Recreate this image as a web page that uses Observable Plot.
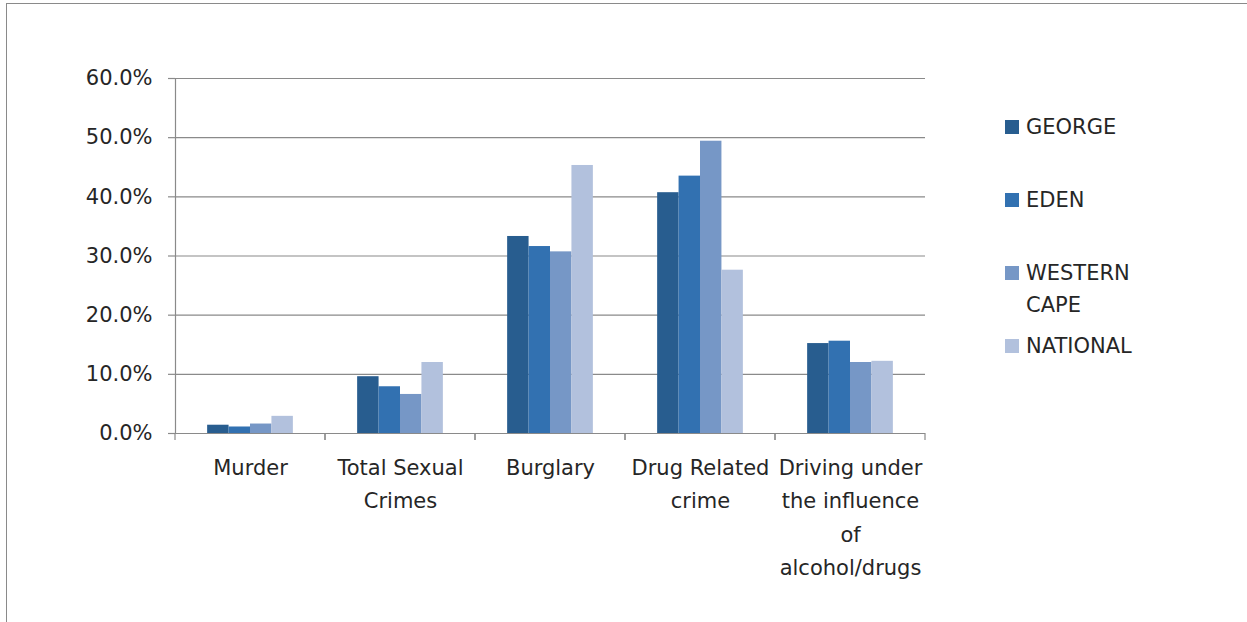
<!DOCTYPE html>
<html>
<head>
<meta charset="utf-8">
<script src="https://cdn.jsdelivr.net/npm/d3@7"></script>
<script src="https://cdn.jsdelivr.net/npm/@observablehq/plot@0.6"></script>
<style>
  html, body { margin: 0; padding: 0; background: #fff; width: 1247px; height: 622px; overflow: hidden; }
  #frame { position: absolute; left: 6px; top: 3px; width: 1300px; height: 700px; border-top: 1px solid #8a8a8a; border-left: 1px solid #8a8a8a; box-sizing: border-box; }
  #chart { position: absolute; left: 0; top: 0; }
  #legend { position: absolute; left: 0; top: 0; font-family: "DejaVu Sans", sans-serif; font-size: 21px; color: #262626; }
  .item { position: absolute; display: flex; align-items: flex-start; }
  .swatch { width: 14px; height: 14px; margin-top: 9px; margin-right: 7px; flex: none; }
  .label { width: 120px; line-height: 32px; }
</style>
</head>
<body>
<div id="frame"></div>
<div id="chart"></div>
<div id="legend"></div>
<script>
// ---- data ----
const categories = ["Murder", "Total Sexual Crimes", "Burglary", "Drug Related crime", "Driving under the influence of alcohol/drugs"];
const categoryLabels = ["Murder", "Total Sexual\nCrimes", "Burglary", "Drug Related\ncrime", "Driving under\nthe influence\nof\nalcohol/drugs"];
const series = ["GEORGE", "EDEN", "WESTERN CAPE", "NATIONAL"];
const george = [1.4, 9.6, 33.3, 40.7, 15.2];
const eden = [1.1, 7.9, 31.6, 43.5, 15.6];
const westernCape = [1.6, 6.6, 30.7, 49.4, 12.0];
const national = [2.9, 12.0, 45.3, 27.6, 12.2];
const yTicks = [0, 10, 20, 30, 40, 50, 60];
const colors = ["#285d8f", "#3271b1", "#7697c6", "#b2c1dd"];

const valuesBySeries = [george, eden, westernCape, national];
const rows = [];
series.forEach((s, j) => categories.forEach((c, i) => rows.push({category: c, series: s, value: valuesBySeries[j][i]})));
const labelOf = new Map(categories.map((c, i) => [c, categoryLabels[i]]));

const gridColor = "#8a8a8a";

function boundaryTicks(index, scales, values, dims) {
  const [a, b] = scales.x.range();
  const y0 = scales.y(0);
  const g = d3.create("svg:g").attr("stroke", gridColor).attr("stroke-width", 1.2);
  for (const x of [a, b]) {
    g.append("line").attr("x1", x).attr("x2", x).attr("y1", y0).attr("y2", y0 + 7);
  }
  return g.node();
}

const chart = Plot.plot({
  width: 1247,
  height: 622,
  marginLeft: 175,
  marginRight: 322,
  marginTop: 78,
  marginBottom: 189,
  style: {fontFamily: "DejaVu Sans, sans-serif", fontSize: "21px", color: "#262626", background: "transparent", overflow: "visible"},
  fx: {domain: categories, padding: 0, round: false},
  x: {domain: series, paddingInner: 0, paddingOuter: 1.5, round: false, axis: null},
  y: {domain: [0, 60], axis: null},
  color: {domain: series, range: colors},
  marks: [
    Plot.gridY(yTicks, {stroke: gridColor, strokeOpacity: 1, strokeWidth: 1.2}),
    Plot.barY(rows, {fx: "category", x: "series", y: "value", fill: "series"}),
    Plot.frame({anchor: "left", facetAnchor: "left", stroke: gridColor, strokeWidth: 1.2}),
    boundaryTicks,
    Plot.axisY(yTicks, {tickSize: 7, tickPadding: 16, stroke: gridColor, strokeWidth: 1.2, tickFormat: d => d.toFixed(1) + "%", label: null, fill: "#262626"}),
    Plot.axisFx({anchor: "bottom", tickSize: 0, tickPadding: 18, tickFormat: d => labelOf.get(d), lineHeight: 1.586, label: null, fill: "#262626"})
  ]
});
document.getElementById("chart").appendChild(chart);

// ---- legend ----
const legend = d3.select("#legend");
series.forEach((s, i) => {
  const item = legend.append("div").attr("class", "item")
    .style("left", "1005px").style("top", (127 - 16 + i * 73) + "px");
  item.append("div").attr("class", "swatch").style("background", colors[i]);
  item.append("div").attr("class", "label").text(s);
});
</script>
</body>
</html>
